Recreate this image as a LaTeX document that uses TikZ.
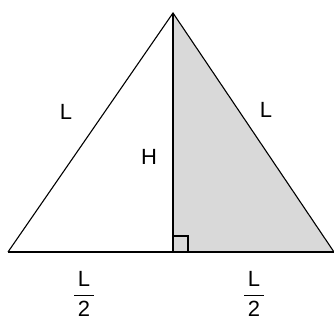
\documentclass[tikz,border=0pt]{standalone}
\usepackage{amsmath}
\usepackage{fontspec}
\setmainfont{Liberation Sans}
\usetikzlibrary{positioning, calc}
\newcommand{\halfL}{$\genfrac{}{}{1.6pt}{0}{\text{\,L\,}}{\text{2}}$}

\begin{document}
\begin{tikzpicture}[
  x=1pt, y=1pt,
  side/.style={line width=1.1pt, black},
  lbl/.style={font=\fontsize{22}{26}\selectfont, inner sep=0pt},
  half/.style={fill=black!15}
]
\useasboundingbox (0,0) rectangle (334,323);
\coordinate (left) at (8,71);
\coordinate (right) at (334,71);
\coordinate (apex) at (173,310);
\coordinate (foot) at (173,71);
% shaded half
\fill[half] (foot) -- (apex) -- (right) -- cycle;
\draw[side] (left) -- (apex) -- (right);
\draw[side] (apex) -- (foot);
\draw[line width=1.6pt] (left) -- (right);
% right angle
\draw[side] ($(foot)+(0,16)$) -- ++(15,0) -- ++(0,-16);
\node[lbl] (sl) at (66,211) {L};
\node[lbl] (sr) at (266,213) {L};
\node[lbl] (h) at (149,166) {H};
\node[lbl] (bl) at (84,29) {\halfL};
\node[lbl] (br) at (254,29) {\halfL};
\end{tikzpicture}
\end{document}
